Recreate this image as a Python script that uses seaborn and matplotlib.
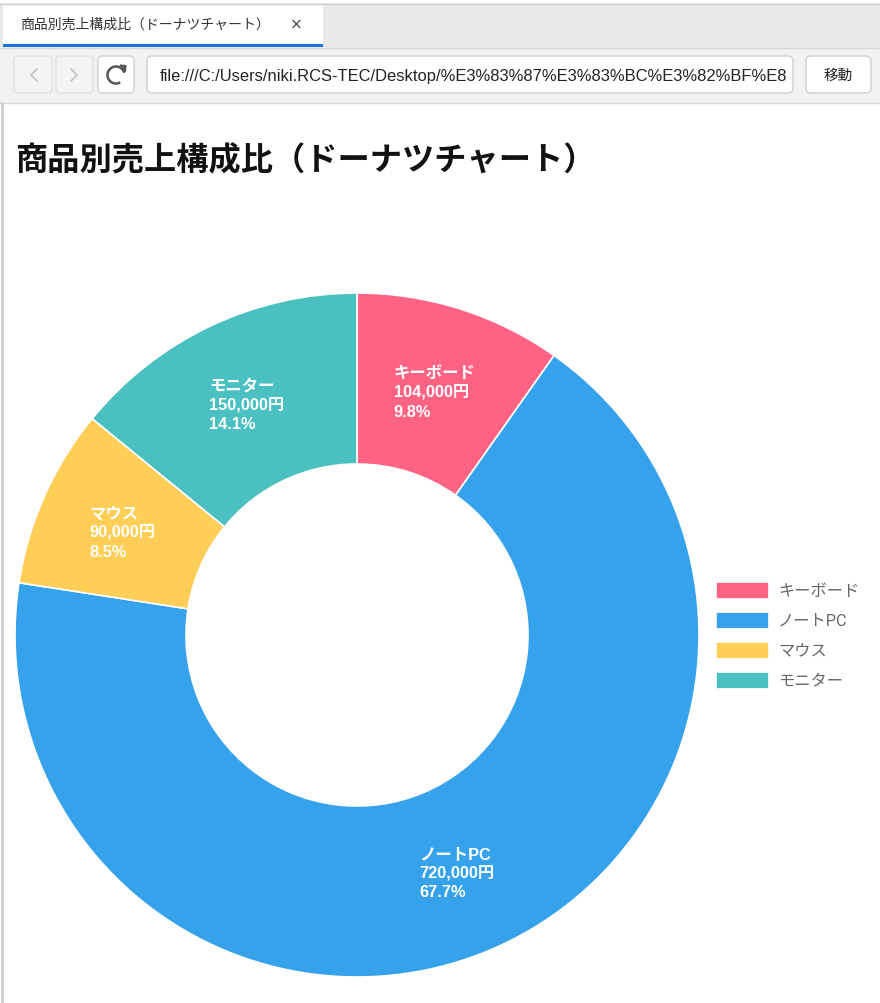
import matplotlib
matplotlib.use("Agg")
import matplotlib.pyplot as plt
from matplotlib.patches import Rectangle, FancyBboxPatch, Arc, Polygon
import numpy as np
import seaborn as sns

# ---- data ----
categories = ["キーボード", "ノートPC", "マウス", "モニター"]
sales = [104000, 720000, 90000, 150000]
colors = ["#FF6384", "#36A2EB", "#FFCE56", "#4BC0C0"]
title = "商品別売上構成比（ドーナツチャート）"
url = "file:///C:/Users/niki.RCS-TEC/Desktop/%E3%83%87%E3%83%BC%E3%82%BF%E8"

sns.set_theme(style="white")
plt.rcParams["font.family"] = ["Noto Sans CJK JP", "DejaVu Sans"]
LAB = ["Liberation Sans", "Noto Sans CJK JP", "DejaVu Sans"]

W, H = 880, 1004
fig = plt.figure(figsize=(W / 100, H / 100), dpi=100)
fig.patch.set_facecolor("white")

# ---- browser chrome overlay (pixel coordinates) ----
ov = fig.add_axes([0, 0, 1, 1])
ov.set_xlim(0, W)
ov.set_ylim(H, 0)
ov.axis("off")
ov.patch.set_visible(False)

# tab bar
ov.add_patch(Rectangle((0, 4), W, 44, facecolor="#e8e8e8", edgecolor="none"))
ov.plot([0, W], [4.5, 4.5], color="#cfcfcf", lw=1)
ov.add_patch(Rectangle((3, 5), 320, 42, facecolor="white", edgecolor="none"))
ov.add_patch(Rectangle((3, 45), 320, 2.5, facecolor="#1a73d9", edgecolor="none"))
ov.text(20, 25, title, fontsize=10, color="#333333", va="center", ha="left")
ov.text(296, 25, "×", fontsize=11, color="#444444", va="center", ha="center",
        family=["DejaVu Sans"])
# toolbar
ov.add_patch(Rectangle((0, 48), W, 56, facecolor="#f2f2f2", edgecolor="none"))
ov.plot([0, W], [48.5, 48.5], color="#d6d6d6", lw=1)
ov.plot([0, W], [104, 104], color="#d6d6d6", lw=1)
for x0, x1, fc, ec in [(14, 52, "#f4f4f4", "#e2e2e2"), (56, 93, "#f4f4f4", "#e2e2e2"),
                       (98, 134, "white", "#cfcfcf")]:
    ov.add_patch(FancyBboxPatch((x0, 57), x1 - x0, 37, boxstyle="round,pad=0,rounding_size=4",
                                facecolor=fc, edgecolor=ec, lw=1))
ov.plot([37, 31, 37], [70, 76, 82], color="#c4c4c4", lw=1.3)
ov.plot([71, 77, 71], [70, 76, 82], color="#c4c4c4", lw=1.3)
ov.add_patch(Arc((116, 76), 17, 17, theta1=-300, theta2=-15, color="#555555", lw=1.8))
ov.add_patch(Polygon([[120, 66], [126, 66.5], [125.5, 72.5]], closed=True,
                     facecolor="#555555", edgecolor="#555555", lw=0.8))
addr = FancyBboxPatch((147, 57), 646, 37, boxstyle="round,pad=0,rounding_size=5",
                      facecolor="white", edgecolor="#cfcfcf", lw=1)
ov.add_patch(addr)
t = ov.text(160, 76, url, fontsize=11.9, color="#222222", va="center", ha="left",
            family=["Liberation Sans", "DejaVu Sans"])
clip = Rectangle((148, 57), 643, 37, transform=ov.transData)
t.set_clip_path(clip)
ov.add_patch(FancyBboxPatch((806, 57), 65, 37, boxstyle="round,pad=0,rounding_size=5",
                            facecolor="white", edgecolor="#cfcfcf", lw=1))
ov.text(838, 76, "移動", fontsize=10.5, color="#222222", va="center", ha="center")
# left page border
ov.plot([1.5, 1.5], [104, H], color="#cccccc", lw=2)

# page title
ov.text(15, 161, title, fontsize=23.2, fontweight="bold", color="#111111",
        va="center", ha="left")

# ---- donut chart ----
cx, cy, R = 357, 636, 342
ax = fig.add_axes([(cx - R) / W, (H - cy - R) / H, 2 * R / W, 2 * R / H])
ax.patch.set_visible(False)
wedges, _ = ax.pie(sales, colors=colors, startangle=90, counterclock=False, radius=1,
                   wedgeprops=dict(width=0.5, edgecolor="white", linewidth=1.2))
ax.set_xlim(-1, 1)
ax.set_ylim(-1, 1)
ax.set_aspect("equal")
ax.axis("off")

total = sum(sales)
for w, cat, v in zip(wedges, categories, sales):
    ang = np.deg2rad((w.theta1 + w.theta2) / 2)
    r = 0.75
    ax.text(r * np.cos(ang), r * np.sin(ang) - 0.004,
            f"{cat}\n{v:,}円\n{v / total * 100:.1f}%",
            ha="center", va="center", multialignment="left",
            color="white", fontsize=11.8, fontweight="bold", family=LAB,
            linespacing=1.32)

# ---- legend ----
for i, (cat, c) in enumerate(zip(categories, colors)):
    y = 591 + 30 * i
    ov.add_patch(Rectangle((716, y - 8), 52, 16, facecolor=c, edgecolor="white", lw=0.5))
    ov.text(778, y, cat, fontsize=11.7, color="#666666", va="center", ha="left",
            family=["Roboto", "Noto Sans CJK JP", "DejaVu Sans"])

fig.savefig("out.png", dpi=100)
